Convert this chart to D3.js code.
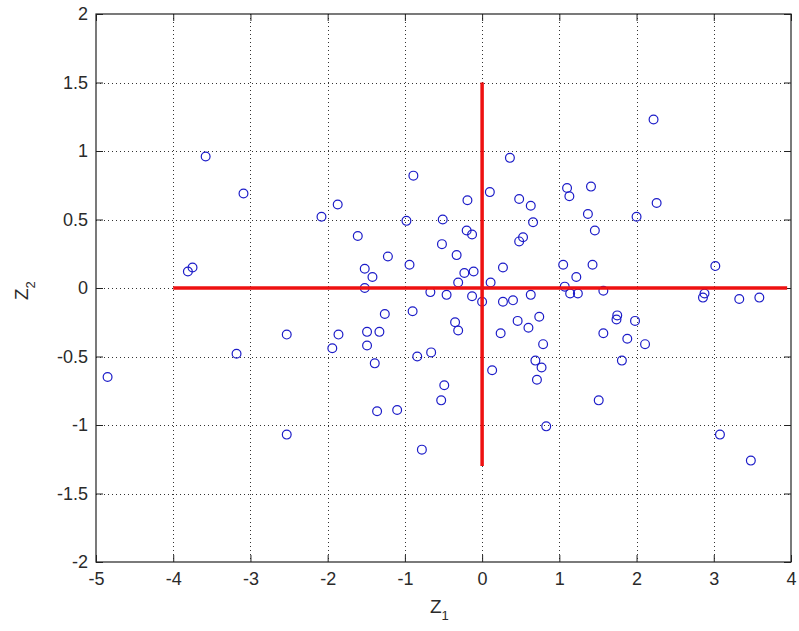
<!DOCTYPE html>
<html>
<head>
    <meta charset="utf-8" />
    <title>Z1 Z2 scatter</title>
    <script src="https://cdn.jsdelivr.net/npm/d3@7/dist/d3.min.js" charset="utf-8"></script>
    <style>
        html, body { margin: 0; padding: 0; background: #fff; }
        text { font-family: "Liberation Sans", Arial, sans-serif; }
    </style>
</head>
<body>
</body>
<script charset="utf-8">

    var width = 799;
    var height = 631;
    var margin = {top: 14, right: 8, bottom: 69, left: 96};

    // data
    var z1 = [-3.58, -3.09, -2.08, -1.87, -1.61, -1.22, -1.52, -1.42, -1.52, -3.81,
              -3.75, -1.26, -2.53, -3.18, -4.85, -2.53, -1.86, -1.94, -1.49, -1.49,
              -1.33, -1.39, -1.36, -1.10, -0.89, -0.98, -0.94, -0.51, -0.19, -0.20,
              -0.13, -0.52, -0.33, -0.23, -0.11, -0.31, -0.67, -0.46, -0.13, 0.10,
              0.11, 0.00, -0.90, -0.84, -0.66, -0.35, -0.31, -0.49, -0.53, -0.78,
              0.13, 0.36, 0.48, 0.63, 0.66, 0.53, 0.48, 0.27, 1.10, 1.13,
              1.41, 1.37, 1.46, 2.00, 2.26, 1.05, 1.43, 1.22, 1.07, 1.14,
              1.24, 1.57, 0.63, 0.40, 0.27, 2.22, 3.02, 2.86, 2.88, 3.33,
              3.59, 0.46, 0.60, 0.74, 0.24, 0.79, 0.69, 0.77, 0.71, 0.83,
              1.75, 1.74, 1.98, 1.57, 1.88, 2.11, 1.81, 1.51, 3.08, 3.48];
    var z2 = [0.96, 0.69, 0.52, 0.61, 0.38, 0.23, 0.14, 0.08, 0.00, 0.12,
              0.15, -0.19, -0.34, -0.48, -0.65, -1.07, -0.34, -0.44, -0.32, -0.42,
              -0.32, -0.55, -0.90, -0.89, 0.82, 0.49, 0.17, 0.50, 0.64, 0.42,
              0.39, 0.32, 0.24, 0.11, 0.12, 0.04, -0.03, -0.05, -0.06, 0.70,
              0.04, -0.10, -0.17, -0.50, -0.47, -0.25, -0.31, -0.71, -0.82, -1.18,
              -0.60, 0.95, 0.65, 0.60, 0.48, 0.37, 0.34, 0.15, 0.73, 0.67,
              0.74, 0.54, 0.42, 0.52, 0.62, 0.17, 0.17, 0.08, 0.01, -0.04,
              -0.04, -0.02, -0.05, -0.09, -0.10, 1.23, 0.16, -0.07, -0.04, -0.08,
              -0.07, -0.24, -0.29, -0.21, -0.33, -0.41, -0.53, -0.58, -0.67, -1.01,
              -0.20, -0.23, -0.24, -0.33, -0.37, -0.41, -0.53, -0.82, -1.07, -1.26];

    var xTicks = [-5, -4, -3, -2, -1, 0, 1, 2, 3, 4];
    var yTicks = [-2, -1.5, -1, -0.5, 0, 0.5, 1, 1.5, 2];
    var hLineX = [-4, 3.95];   // red line along z2 = 0
    var vLineY = [-1.3, 1.5];  // red line along z1 = 0

    var svg = d3.select('body').append('svg').attr('width', width).attr('height', height);

    var x = d3.scaleLinear().domain([-5, 4]).range([margin.left, width - margin.right]);
    var y = d3.scaleLinear().domain([-2, 2]).range([height - margin.bottom, margin.top]);

    var inner = function(t){ return t > x.domain()[0] && t < x.domain()[1]; };
    var innerY = function(t){ return t > y.domain()[0] && t < y.domain()[1]; };
    var plain = function(d){ return String(d); };  // hyphen minus like the original

    // dotted grid
    var grid = svg.append('g').attr('stroke', '#333').attr('stroke-width', 1).attr('stroke-dasharray', '1,3');
    grid.selectAll('.vgrid').data(xTicks.filter(inner)).enter().append('line').attr('class', 'vgrid')
        .attr('x1', function(d){ return Math.round(x(d)) + 0.5; })
        .attr('x2', function(d){ return Math.round(x(d)) + 0.5; })
        .attr('y1', y(2)).attr('y2', y(-2));
    grid.selectAll('.hgrid').data(yTicks.filter(innerY)).enter().append('line').attr('class', 'hgrid')
        .attr('y1', function(d){ return Math.round(y(d)) + 0.5; })
        .attr('y2', function(d){ return Math.round(y(d)) + 0.5; })
        .attr('x1', x(-5)).attr('x2', x(4));

    // axes, ticks pointing inward
    var tickLen = 7;
    var gx = svg.append('g').attr('transform', 'translate(0,' + y(-2) + ')')
        .call(d3.axisBottom(x).tickValues(xTicks).tickSize(-tickLen).tickPadding(10).tickFormat(plain));
    var gy = svg.append('g').attr('transform', 'translate(' + x(-5) + ',0)')
        .call(d3.axisLeft(y).tickValues(yTicks).tickSize(-tickLen).tickPadding(8).tickFormat(plain));
    var gt = svg.append('g').attr('transform', 'translate(0,' + y(2) + ')')
        .call(d3.axisTop(x).tickValues(xTicks).tickSize(-tickLen).tickFormat(''));
    var gr = svg.append('g').attr('transform', 'translate(' + x(4) + ',0)')
        .call(d3.axisRight(y).tickValues(yTicks).tickSize(-tickLen).tickFormat(''));

    [gx, gy, gt, gr].forEach(function(g){
        g.select('.domain').remove();
        g.selectAll('line').attr('stroke', '#222');
        g.selectAll('text').attr('fill', '#2a2a2a').style('font-size', '18px')
            .style('font-family', '"Liberation Sans", Arial, sans-serif');
    });

    svg.append('rect').attr('x', x(-5)).attr('y', y(2))
        .attr('width', x(4) - x(-5)).attr('height', y(-2) - y(2))
        .attr('fill', 'none').attr('stroke', '#222').attr('stroke-width', 1.2);

    // scatter points
    svg.append('g').selectAll('circle').data(z1).enter().append('circle')
        .attr('cx', function(d){ return x(d); })
        .attr('cy', function(d, i){ return y(z2[i]); })
        .attr('r', 4.4)
        .attr('fill', 'none').attr('stroke', '#1c1cc8').attr('stroke-width', 1.2);

    // red cross
    var redLine = d3.line().x(function(d){ return x(d[0]); }).y(function(d){ return y(d[1]); });
    svg.append('path').datum(hLineX.map(function(v){ return [v, 0]; }))
        .attr('d', redLine).attr('stroke', '#ee1111').attr('stroke-width', 3.5).attr('fill', 'none');
    svg.append('path').datum(vLineY.map(function(v){ return [0, v]; }))
        .attr('d', redLine).attr('stroke', '#ee1111').attr('stroke-width', 3.5).attr('fill', 'none');

    // axis labels
    var xl = svg.append('text').attr('x', 430).attr('y', 613).attr('fill', '#2a2a2a').style('font-size', '19px');
    xl.append('tspan').text('Z');
    xl.append('tspan').attr('dy', 7).style('font-size', '13px').text('1');

    var yl = svg.append('text').attr('transform', 'translate(28,300) rotate(-90)').attr('fill', '#2a2a2a').style('font-size', '19px');
    yl.append('tspan').text('Z');
    yl.append('tspan').attr('dy', 7).style('font-size', '13px').text('2');

</script>
</html>
